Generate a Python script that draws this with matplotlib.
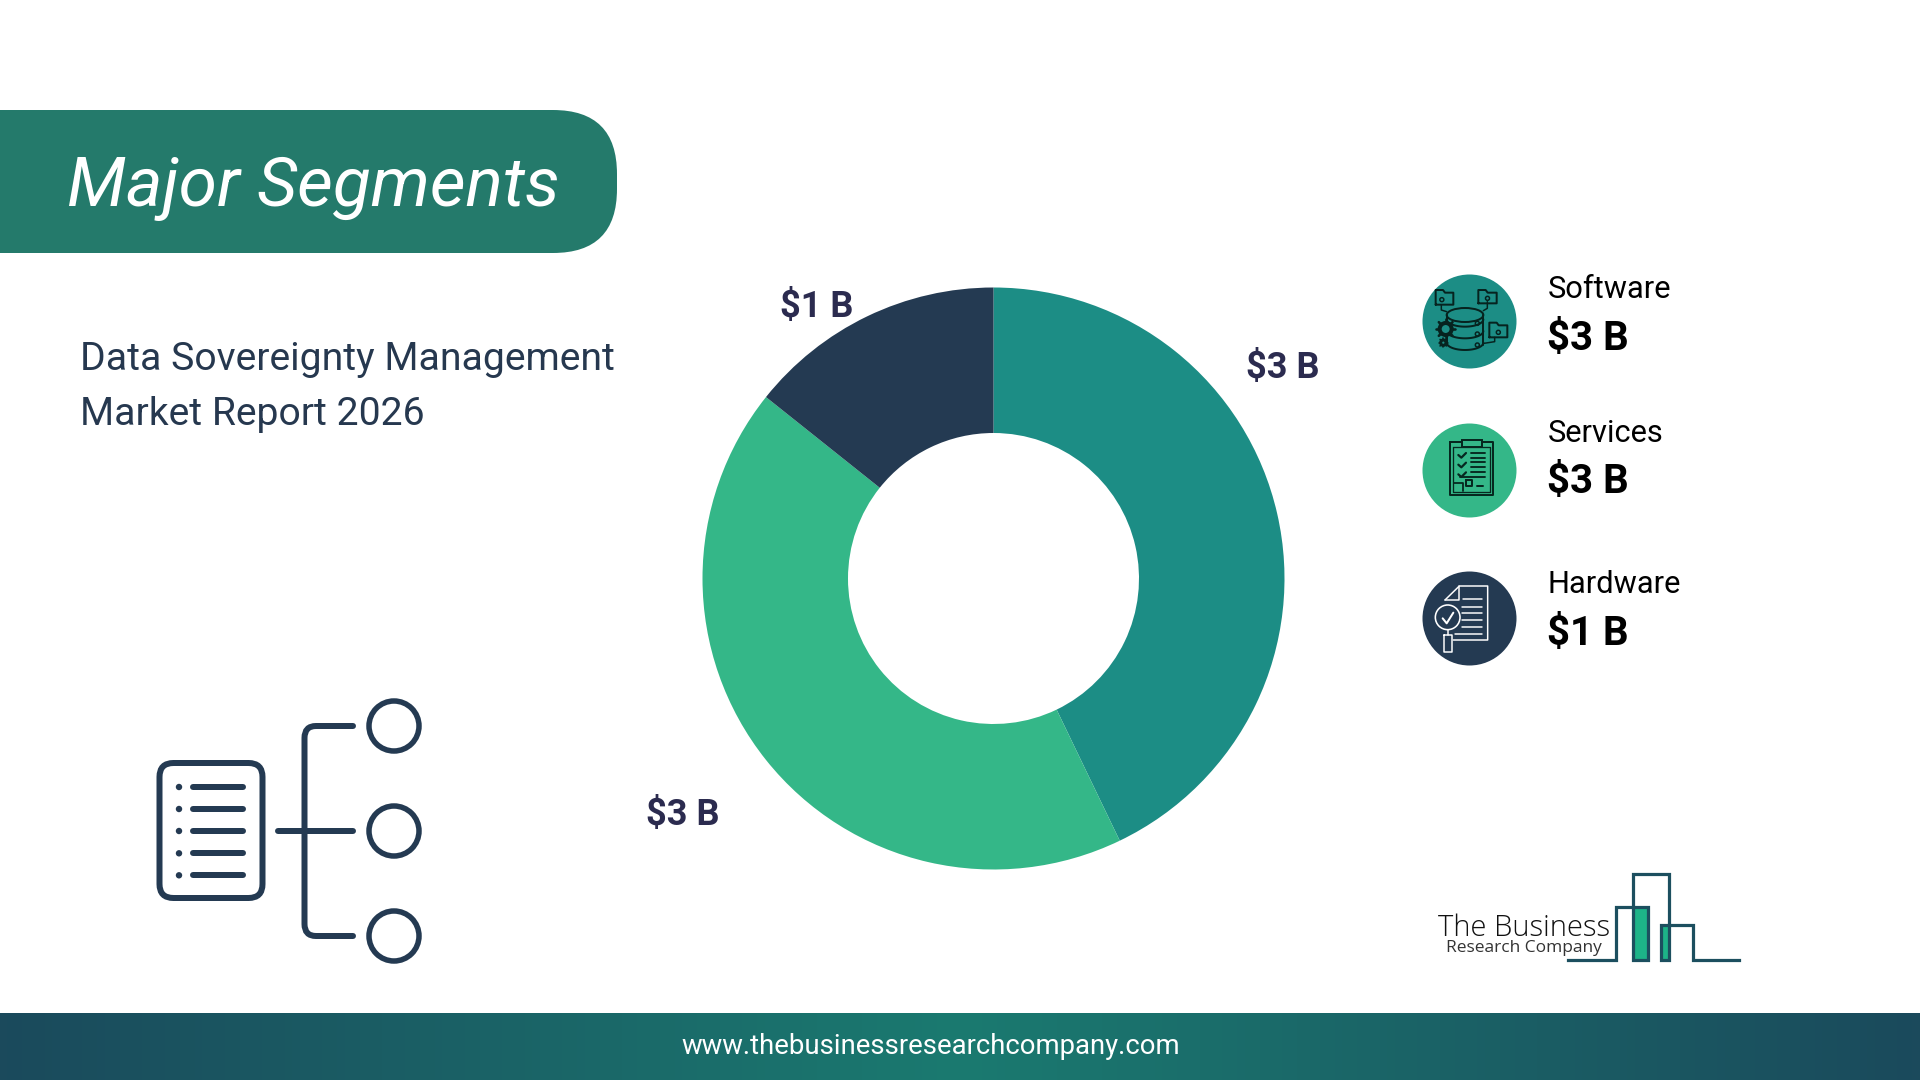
import numpy as np
import matplotlib
matplotlib.use("Agg")
import matplotlib.pyplot as plt
from matplotlib.colors import LinearSegmentedColormap
from matplotlib.patches import Circle, FancyBboxPatch, Rectangle, PathPatch, Ellipse, Polygon
from matplotlib.path import Path

categories = ["Software", "Services", "Hardware"]
values = [3, 3, 1]
value_labels = ["$3 B", "$3 B", "$1 B"]
seg_colors = ["#1C8D85", "#34B788", "#243A52"]

title_text = "Major Segments"
subtitle_lines = ["Data Sovereignty Management", "Market Report 2026"]
footer_text = "www.thebusinessresearchcompany.com"

W, H = 1920, 1080
plt.rcParams["font.family"] = ["Roboto", "DejaVu Sans"]
fig = plt.figure(figsize=(W / 100, H / 100), dpi=100, facecolor="white")
px = 72 / 100  # one pixel, in points

bg = fig.add_axes([0, 0, 1, 1])
bg.set_xlim(0, W)
bg.set_ylim(H, 0)
bg.axis("off")

# ---------- banner ----------
bg.add_patch(FancyBboxPatch((-80, 110), 697, 143, boxstyle="round,pad=0,rounding_size=64",
                            fc="#247A6B", ec="none"))
bg.text(67, 206, title_text, color="white", fontsize=50, style="italic",
        fontweight="normal", ha="left", va="baseline")

# ---------- subtitle ----------
for line, y in zip(subtitle_lines, [370, 425]):
    bg.text(80, y, line, color="#26384F", fontsize=28.2, ha="left", va="baseline")

# ---------- footer ----------
cmap = LinearSegmentedColormap.from_list("foot", ["#1B4A5C", "#1A7A70", "#1B4A5C"])
bg.imshow(np.linspace(0, 1, 512)[None, :], extent=(0, W, 1080, 1013), aspect="auto",
          cmap=cmap, zorder=1)
bg.set_xlim(0, W)
bg.set_ylim(H, 0)
bg.text(931, 1046.5, footer_text, color="white", fontsize=19.8, ha="center", va="center", zorder=2)

# ---------- donut ----------
cx, cy, R = 993.5, 578.5, 291
ax = fig.add_axes([(cx - R) / W, 1 - (cy + R) / H, 2 * R / W, 2 * R / H])
ax.pie(values, colors=seg_colors, startangle=90, counterclock=False, radius=1,
       wedgeprops=dict(width=0.5, linewidth=0))
ax.set_xlim(-1, 1)
ax.set_ylim(-1, 1)
ax.set_aspect("equal")
ax.axis("off")

label_xy = [(1283, 368), (683, 815), (817, 307)]
for s, (x, y) in zip(value_labels, label_xy):
    bg.text(x, y, s, color="#2B2B4F", fontsize=26, fontweight="bold", ha="center", va="center")

# ---------- legend ----------
leg_y = [321.5, 470.5, 618.5]
name_base = [298, 442, 593]
val_base = [350, 493, 645]
for i, c in enumerate(categories):
    bg.add_patch(Circle((1469.5, leg_y[i]), 47, fc=seg_colors[i], ec="none"))
    bg.text(1547.5, name_base[i], c, color="black", fontsize=22.2, ha="left", va="baseline")
    bg.text(1547, val_base[i], value_labels[i], color="black", fontsize=29,
            fontweight="bold", ha="left", va="baseline")


def Z(x, y):
    return (1400 + x / 3, 260 + y / 3)


def pl(pts, color, lw=1.7, ax_=bg, **kw):
    p = [Z(*q) for q in pts]
    ax_.plot([a for a, _ in p], [b for _, b in p], color=color, lw=lw * px * 1.0,
             solid_capstyle=kw.get("cap", "round"), solid_joinstyle="round", zorder=5)


def rect(x0, y0, x1, y1, color, lw=1.7):
    pl([(x0, y0), (x1, y0), (x1, y1), (x0, y1), (x0, y0)], color, lw)


def circ(x, y, r, color, lw=1.7, fc="none"):
    bg.add_patch(Circle(Z(x, y), r / 3, fc=fc, ec=color, lw=lw * px, zorder=5))


k = "#06231F"
# software icon
for (x0, y0, x1, y1) in [(107, 98, 160, 134), (235, 98, 290, 130), (268, 196, 322, 232)]:
    pl([(x0, y1), (x0, y0 - 8), (x0 + 22, y0 - 8), (x0 + 28, y0), (x1, y0), (x1, y1), (x0, y1)], k, 2)
    circ((x0 + x1) / 2 - 8 if x0 == 107 else (x0 + x1) / 2, y1 - 15, 6, k, 1.5)
bg.add_patch(Ellipse(Z(195, 165), 110 / 3, 42 / 3, fc="none", ec=k, lw=2 * px, zorder=5))
pl([(250, 165), (250, 255)], k, 2)
pl([(140, 165), (140, 190)], k, 2)
pl([(140, 225), (140, 255)], k, 2)
tt = np.linspace(0, np.pi, 30)
for yy in [170, 205, 240]:
    pl([(195 - 55 * np.cos(t) * 1, yy + 22 * np.sin(t) + 8) for t in tt], k, 2)
pl([(124, 134), (124, 150), (140, 155)], k, 1.5)
pl([(262, 125), (262, 145), (250, 152)], k, 1.5)
pl([(284, 232), (284, 245), (252, 250)], k, 1.5)
circ(137, 207, 18, k, 4, fc="#1C8D85")
circ(130, 248, 8, k, 3, fc="#1C8D85")
for a in np.arange(0, 360, 45):
    c_, s_ = np.cos(np.radians(a)), np.sin(np.radians(a))
    pl([(137 + 20 * c_, 207 + 20 * s_), (137 + 29 * c_, 207 + 29 * s_)], k, 2.6)
    pl([(130 + 9 * c_, 248 + 9 * s_), (130 + 14 * c_, 248 + 14 * s_)], k, 1.6)
for yy in [190, 222, 255]:
    circ(232, yy, 6, k, 1.5)

# services icon
k = "#06281F"
rect(150, 545, 280, 705, k, 2)
rect(160, 560, 270, 695, k, 1.3)
bg.add_patch(Rectangle(Z(186, 540), 60 / 3, 20 / 3, fc="#34B788", ec=k, lw=2 * px, zorder=6))
for yy in [587, 616, 645]:
    pl([(175, yy - 2), (184, yy + 6), (198, yy - 8)], k, 2.2)
for yy, x0 in [(580, 212), (593, 212), (607, 212), (621, 212), (635, 212), (650, 180)]:
    pl([(x0, yy), (256, yy)], k, 1.9)
rect(199, 661, 215, 679, k, 2)
pl([(230, 678), (250, 678)], k, 2)
pl([(162, 670), (188, 670), (188, 692)], k, 1.8)

# hardware icon
k = "white"
pl([(135, 1020), (178, 978), (263, 978), (263, 1140), (160, 1140)], k, 1.5)
pl([(178, 978), (178, 1020), (135, 1020)], k, 1.5)
for yy, x0 in [(1018, 190), (1042, 185), (1060, 185), (1080, 185), (1100, 185), (1122, 165)]:
    pl([(x0, yy), (245, yy)], k, 1.5)
circ(143, 1072, 37, k, 1.6, fc="#243A52")
pl([(128, 1075), (140, 1090), (160, 1058)], k, 2)
rect(133, 1125, 155, 1177, k, 1.5)
pl([(143, 1110), (143, 1125)], k, 1.5)

# ---------- bottom-left icon ----------
icon = "#243A52"
sw = 6 * px
bg.add_patch(FancyBboxPatch((159.5, 763), 103, 135, boxstyle="round,pad=0,rounding_size=14",
                            fc="none", ec=icon, lw=sw))
for y in [787, 809, 831, 853.3, 875.3]:
    bg.add_patch(Circle((179, y), 3.2, fc=icon, ec="none"))
    bg.plot([193, 243], [y, y], color=icon, lw=sw, solid_capstyle="round")
br = Path([(353, 726), (316, 726), (304.5, 726), (304.5, 738), (304.5, 924), (304.5, 936), (316, 936), (353, 936)],
          [Path.MOVETO, Path.LINETO, Path.CURVE3, Path.CURVE3, Path.LINETO, Path.CURVE3, Path.CURVE3, Path.LINETO])
bg.add_patch(PathPatch(br, fc="none", ec=icon, lw=sw, capstyle="round"))
bg.plot([278, 353], [831, 831], color=icon, lw=sw, solid_capstyle="round")
for y in [726, 831, 936]:
    bg.add_patch(Circle((394, y), 25, fc="none", ec=icon, lw=5.5 * px))

# ---------- logo ----------
LX, LY = 1420, 860
def L(x, y):
    return (LX + x / 3, LY + y / 3)
bg.add_patch(Polygon([L(638, 142), L(683, 142), L(683, 300), L(638, 300)], fc="#1DB388", ec="none"))
bg.add_patch(Polygon([L(722, 195), L(747, 195), L(747, 300), L(722, 300)], fc="#1DB388", ec="none"))
lpts = [(445, 300), (587, 300), (587, 142), (683, 142), (683, 300), (638, 300), (638, 42), (747, 42),
        (747, 300), (722, 300), (722, 195), (818, 195), (818, 300), (958, 300)]
p = [L(*q) for q in lpts]
bg.plot([a for a, _ in p], [b for _, b in p], color="#1C4F5F", lw=3.2 * px, solid_joinstyle="miter")
bg.text(1438, 936, "The Business", color="#111111", fontsize=21, family="Open Sans",
        fontweight="light", ha="left", va="baseline")
bg.text(1446, 951.5, "Research Company", color="#333333", fontsize=12.5, family="Open Sans",
        ha="left", va="baseline")

fig.savefig("out.png", dpi=100)
